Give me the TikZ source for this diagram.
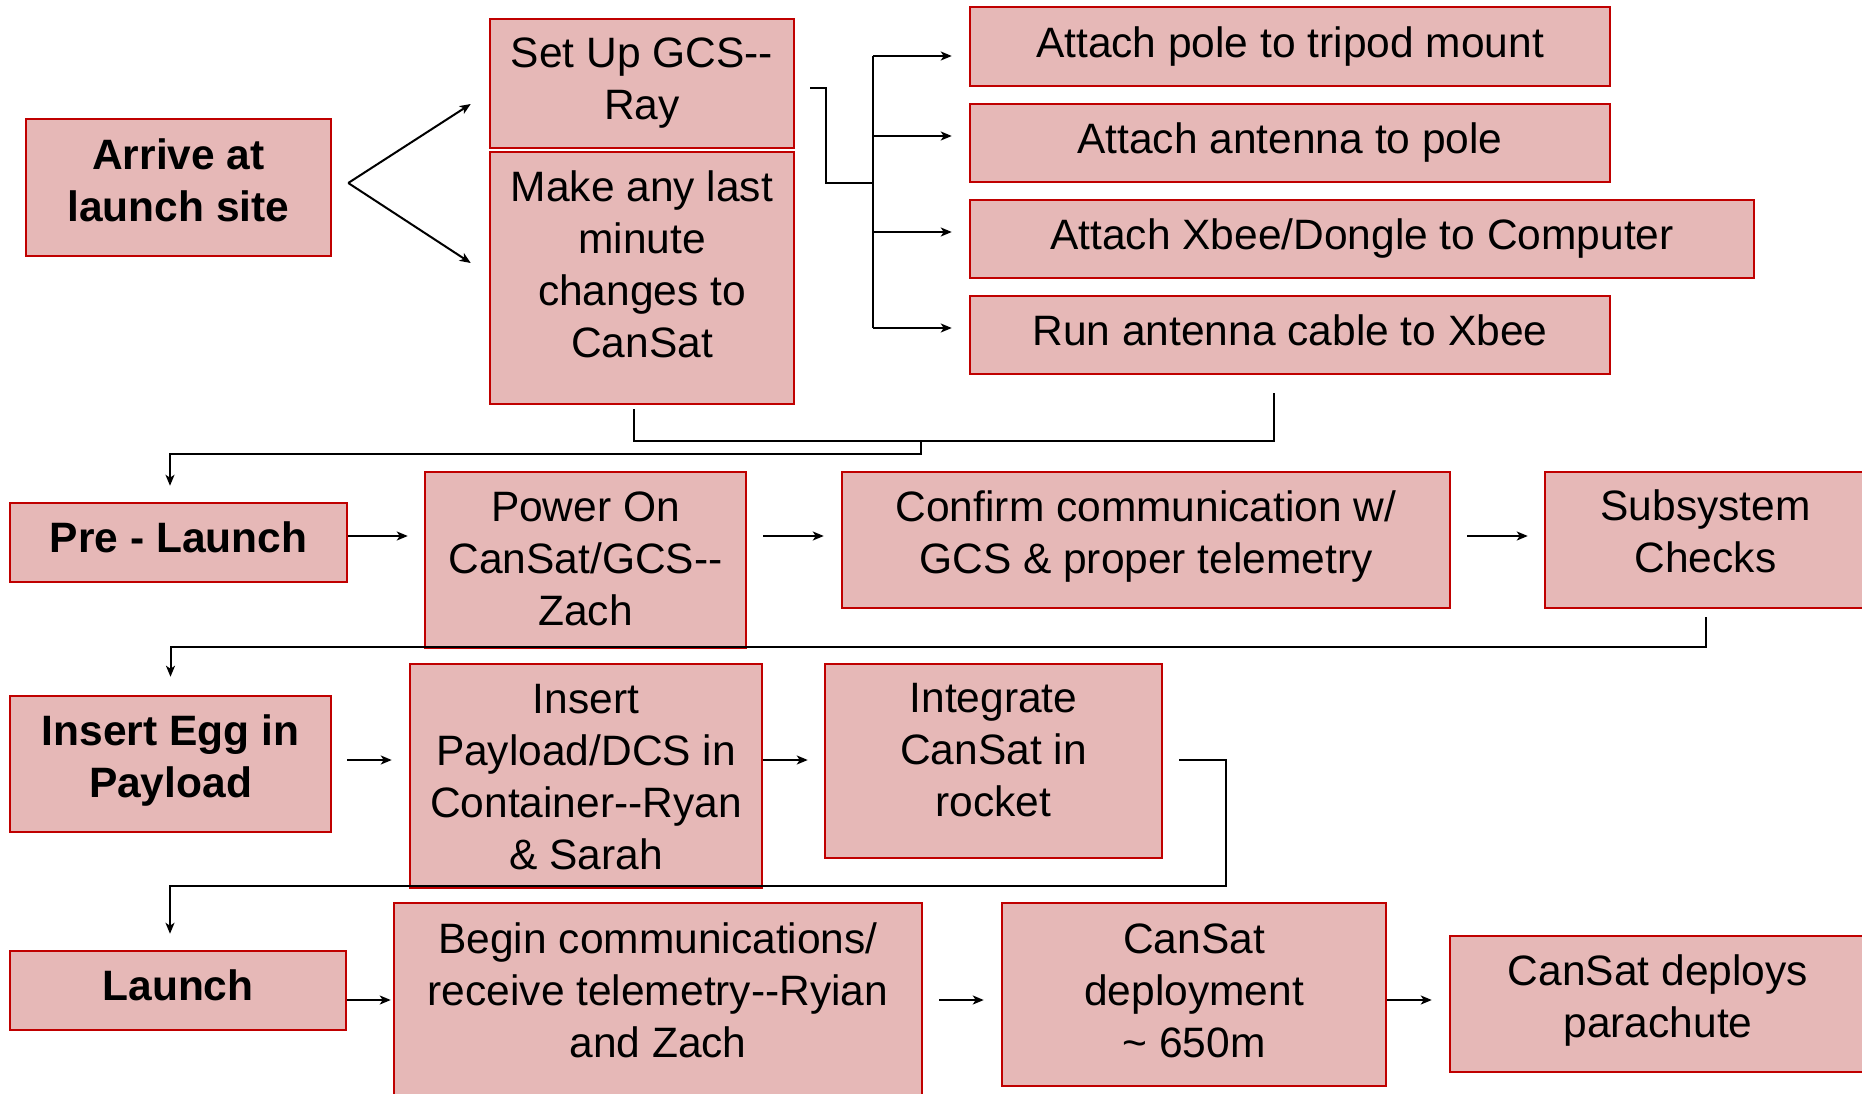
\documentclass[tikz,border=0pt]{standalone}
\usepackage{fontspec}
\setmainfont{Liberation Sans}
\usetikzlibrary{arrows.meta,calc}
% two plain hyphens, kept apart so they are not joined into a dash
\newcommand\dhy{-\kern0pt-}
\definecolor{boxfill}{HTML}{E6B8B7}
\definecolor{boxline}{HTML}{C00000}
\tikzset{
  stage/.style={draw=boxline, fill=boxfill, line width=2.5pt, rectangle, inner sep=0pt},
  txt/.style={align=center, inner sep=0pt, font=\fontsize{42.5}{52}\selectfont},
  boldtxt/.style={txt, font=\fontsize{42.5}{52}\selectfont\bfseries},
  flow/.style={line width=2pt, draw=black},
  arr/.style={flow, -{Stealth[length=11pt,width=9pt,inset=3pt]}},
}
\begin{document}
\begin{tikzpicture}[x=1pt,y=-1pt]
\useasboundingbox (0,0) rectangle (1862,1094);
\clip (0,0) rectangle (1862,1094);

% ---- stage 1: arrival and ground station set-up
\node[stage, minimum width=305pt, minimum height=137pt] (arrive) at (178.5,187.5) {};
\node[boldtxt] (arrive-t) at (178.5,180) {Arrive at\\launch site};
\node[stage, minimum width=304pt, minimum height=129pt] (gcs) at (642,83.5) {};
\node[txt] (gcs-t) at (642,83.5) {Set Up GCS\dhy\\Ray};
\node[stage, minimum width=304pt, minimum height=252pt] (make) at (642,278) {};
\node[txt] (make-t) at (642,264) {Make any last\\minute\\changes to\\CanSat};

\node[stage, minimum width=640pt, minimum height=79pt] (pole) at (1290,46.5) {};
\node[txt] (pole-t) at (1290,46.5) {Attach pole to tripod mount};
\node[stage, minimum width=640pt, minimum height=78pt] (ant) at (1290,143) {};
\node[txt] (ant-t) at (1290,143) {Attach antenna to pole};
\node[stage, minimum width=784pt, minimum height=78pt] (xbee) at (1362,239) {};
\node[txt] (xbee-t) at (1362,239) {Attach Xbee/Dongle to Computer};
\node[stage, minimum width=640pt, minimum height=78pt] (cable) at (1290,335) {};
\node[txt] (cable-t) at (1290,330) {Run antenna cable to Xbee};

% ---- stage 2: pre-launch
\node[stage, minimum width=337pt, minimum height=79pt] (pre) at (178.5,542.5) {};
\node[boldtxt] (pre-t) at (178.5,537.5) {Pre - Launch};
\node[stage, minimum width=321pt, minimum height=176pt] (power) at (585.5,560) {};
\node[txt] (power-t) at (585.5,559) {Power On\\CanSat/GCS\dhy\\Zach};
\node[stage, minimum width=608pt, minimum height=136pt] (confirm) at (1146,540) {};
\node[txt] (confirm-t) at (1146,536.5) {Confirm communication w/\\GCS \& proper telemetry};
\node[stage, minimum width=321pt, minimum height=136pt] (subsys) at (1705.5,540) {};
\node[txt] (subsys-t) at (1705.5,531) {Subsystem\\Checks};

% ---- stage 3: integration
\node[stage, minimum width=321pt, minimum height=136pt] (egg) at (170.5,764) {};
\node[boldtxt] (egg-t) at (170.5,760.5) {Insert Egg in\\Payload};
\node[stage, minimum width=352pt, minimum height=224pt] (payload) at (586,776) {};
\node[txt] (payload-t) at (586,777) {Insert\\Payload/DCS in\\Container\dhy Ryan\\\& Sarah};
\node[stage, minimum width=337pt, minimum height=194pt] (integ) at (993.5,761) {};
\node[txt] (integ-t) at (993.5,750) {Integrate\\CanSat in\\rocket};

% ---- stage 4: launch
\node[stage, minimum width=336pt, minimum height=79pt] (launch) at (178,990.5) {};
\node[boldtxt] (launch-t) at (178,985.5) {Launch};
\node[stage, minimum width=528pt, minimum height=207pt] (begin) at (658,1006.5) {};
\node[txt] (begin-t) at (658,990) {Begin communications/\\receive telemetry\dhy Ryian\\and Zach};
\node[stage, minimum width=384pt, minimum height=183pt] (deploy) at (1194,994.5) {};
\node[txt] (deploy-t) at (1194,991) {CanSat\\deployment\\\textasciitilde{} 650m};
\node[stage, minimum width=416pt, minimum height=136pt] (chute) at (1658,1004) {};
\node[txt] (chute-t) at (1658,1000.5) {CanSat deploys\\parachute};

% ---- connectors, stage 1
\draw[arr] ($(arrive.east)+(16,-4.5)$) -- ($(gcs.west)+(-18,20.5)$);
\draw[arr] ($(arrive.east)+(16,-4.5)$) -- ($(make.west)+(-18,-15)$);

\draw[flow] ($(gcs.east)+(15,4.5)$) -- ($(gcs.east)+(31,4.5)$) |- ($(xbee.west)+(-96,-56)$);
\draw[flow] ($(pole.west)+(-96,9.5)$) -- ($(cable.west)+(-96,-7)$);
\draw[arr] ($(pole.west)+(-96,9.5)$) -- ($(pole.west)+(-17,9.5)$);
\draw[arr] ($(ant.west)+(-96,-7)$) -- ($(ant.west)+(-17,-7)$);
\draw[arr] ($(xbee.west)+(-96,-7)$) -- ($(xbee.west)+(-17,-7)$);
\draw[arr] ($(cable.west)+(-96,-7)$) -- ($(cable.west)+(-17,-7)$);

\draw[flow] ($(make.south)+(-8,4)$) -- ($(make.south)+(-8,36)$) -| ($(cable.south)+(-16,18)$);
\draw[arr] ($(make.south)+(279,36)$) |- ($(pre.north)+(-8.5,-48)$) -- ($(pre.north)+(-8.5,-16)$);

% ---- connectors, stage 2
\draw[arr] ($(pre.east)+(0,-6.5)$) -- ($(power.west)+(-16,-24)$);
\draw[arr] ($(power.east)+(16,-24)$) -- ($(confirm.west)+(-17,-4)$);
\draw[arr] ($(confirm.east)+(16,-4)$) -- ($(subsys.west)+(-16,-4)$);
\draw[arr] ($(subsys.south)+(0,8)$) |- ($(egg.north)+(0,-48)$) -- ($(egg.north)+(0,-18)$);

% ---- connectors, stage 3
\draw[arr] ($(egg.east)+(15,-4)$) -- ($(payload.west)+(-17,-16)$);
\draw[arr] ($(payload.east)+(0,-16)$) -- ($(integ.west)+(-16,-1)$);
\draw[arr] ($(integ.east)+(16,-1)$) -- ($(integ.east)+(63,-1)$) |- ($(launch.north)+(-8,-64)$) -- ($(launch.north)+(-8,-16)$);

% ---- connectors, stage 4
\draw[arr] ($(launch.east)+(0,9.5)$) -- ($(begin.west)+(-2,-6.5)$);
\draw[arr] ($(begin.east)+(16,-6.5)$) -- ($(deploy.west)+(-17,5.5)$);
\draw[arr] ($(deploy.east)+(0,5.5)$) -- ($(chute.west)+(-17,-4)$);
\end{tikzpicture}
\end{document}
